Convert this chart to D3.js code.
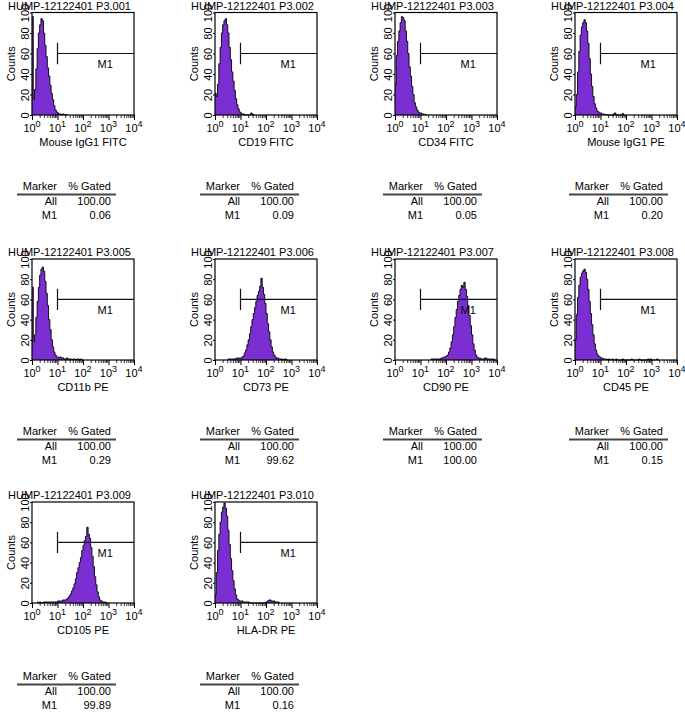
<!DOCTYPE html>
<html><head><meta charset="utf-8">
<script src="https://cdn.jsdelivr.net/npm/d3@7"></script>
<style>
html,body{margin:0;padding:0;background:#fff;}
svg{display:block;font-family:"Liberation Sans",Arial,Helvetica,sans-serif;}
</style></head>
<body>
<svg id="chart" width="685" height="712"></svg>
<script>
// ---------- data ----------
const titles = ["HUMP-12122401 P3.001","HUMP-12122401 P3.002","HUMP-12122401 P3.003","HUMP-12122401 P3.004",
  "HUMP-12122401 P3.005","HUMP-12122401 P3.006","HUMP-12122401 P3.007","HUMP-12122401 P3.008",
  "HUMP-12122401 P3.009","HUMP-12122401 P3.010"];
const xLabels = ["Mouse IgG1 FITC","CD19 FITC","CD34 FITC","Mouse IgG1 PE","CD11b PE","CD73 PE","CD90 PE","CD45 PE","CD105 PE","HLA-DR PE"];
const gatedAll = ["100.00","100.00","100.00","100.00","100.00","100.00","100.00","100.00","100.00","100.00"];
const gatedM1 = ["0.06","0.09","0.05","0.20","0.29","99.62","100.00","0.15","99.89","0.16"];
const yTicks = [0,20,40,60,80,100];
const xTickExponents = [0,1,2,3,4];
const markerName = "M1";
const markerRange = [10,10000];
const markerLevel = 60;
const tableHeader = ["Marker","% Gated"];
const rowNames = ["All","M1"];
// histograms: counts per channel, 20 channels per decade, starting at channel histStart[i]
const binsPerDecade = 20;
const histStart = [0,0,0,0,0,10,28,0,4,0];
const hist1 = [96,15,25,45,65,80,88,94,92,80,68,57,46,38,29,21,15,9,5,3,2,1,1,0,1,0.5,0.5,0];
const hist2 = [21,18,30,50,66,80,88,92,94,88,80,66,54,42,33,24,16,10,6,3,2,1,1,0,0,0,0,0,2,1,0];
const hist3 = [30,58,72,82,90,96,95,92,82,72,60,47,38,28,20,12,8,5,3,2,2,1,1,0.5,0];
const hist4 = [8,20,42,62,78,86,90,93,90,82,70,55,40,28,18,11,7,4,3,2,2,1,1,0.5,0.5,0,0,0,0,0,1,2,0,0,0,0,0,1.5,0];
const hist5 = [72,18,25,42,58,72,84,90,92,88,78,66,54,40,30,20,13,8,5,3,3,2,3,2,2,1,1,2,1,1,1,0.5,1,1,0.5,1,1,0.5,1,0];
const hist6 = [1,1,1,1,1,1,1.5,2,2,2,2,3,4,7,10,15,20,26,33,40,46,52,58,64,68,73,81,72,65,56,46,36,28,20,13,8,5,3,2,2,1,1,1,0,1,1,0];
const hist7 = [1,1,1,1,1,1,1,1,2,2,3,3,4,5,8,12,18,25,33,42,50,58,64,70,74,72,77,70,63,54,44,34,25,16,10,5,3,2,2,1,1,1,2,2,1,1,1,1,1,1,0];
const hist8 = [20,45,62,74,82,86,88,90,87,80,70,58,46,35,25,16,10,6,4,3,2,2,1,1,1,0.5,1,0,0.5,1,0,0,1,0,0,0,0,1,0,0,0,0,0,0,1,0,0,0,0,0,1,0,0,0,0,0,0,1,0,1,0,0,0,0,1,0];
const hist9 = [1,0,1,0,0,1,1,1,1,1,1,1,1,1,1,1,2,2,2,2,3,3,3,4,5,7,9,12,15,19,24,30,35,40,45,52,57,62,66,75,68,64,55,46,36,26,18,11,6,3,2,1,1,1,0];
const hist10 = [8,30,52,68,80,90,95,99,94,86,72,58,44,32,22,14,8,4,3,2,2,2,1,1,1,1,1,0,0,0,0,0,0,0,0,0,0,0,0,0,1,2,3,3,2,2,2,1,1,1,0];
const hists = [hist1,hist2,hist3,hist4,hist5,hist6,hist7,hist8,hist9,hist10];

// ---------- layout ----------
const colLeft = [32, 215, 395, 575];
const rowTop = [12.5, 259, 502];
const rowBottom = [115, 360, 603];
const frameW = 102;
const tableLeft = [17, 200, 383, 569];
const tableBase = [189.5, 434.5, 679.5];
const fillColor = "#7b2fd3";
const font = 11;

const svg = d3.select("#chart");

hists.forEach((h, i) => {
  const col = i % 4, row = Math.floor(i / 4);
  const left = colLeft[col], top = rowTop[row], bottom = rowBottom[row];
  const H = bottom - top;
  const x = d3.scaleLog().domain([1, 10000]).range([0, frameW]);
  const y = d3.scaleLinear().domain([0, 100]).range([H, 0]);
  const g = svg.append("g").attr("transform", `translate(${left},${top})`);

  // histogram
  const pts = h.map((v, k) => ({e: Math.pow(10, (histStart[i] + k) / binsPerDecade), v}));
  pts.push({e: Math.pow(10, (histStart[i] + h.length) / binsPerDecade), v: h[h.length - 1]});
  const area = d3.area().curve(d3.curveStepAfter)
    .x(d => x(d.e)).y0(y(0)).y1(d => y(Math.min(d.v, 100)));
  const line = d3.line().curve(d3.curveStepAfter)
    .x(d => x(d.e)).y(d => y(Math.min(d.v, 100)));
  g.append("path").datum(pts).attr("d", area).attr("fill", fillColor);
  g.append("path").datum(pts).attr("d", line).attr("fill", "none")
    .attr("stroke", "#000").attr("stroke-width", 0.9);

  // frame
  g.append("rect").attr("x", 0).attr("y", 0).attr("width", frameW).attr("height", H)
    .attr("fill", "none").attr("stroke", "#000").attr("stroke-width", 1.2);

  // y axis
  const ya = g.append("g").call(d3.axisLeft(y).tickValues(yTicks).tickSize(2).tickFormat(d3.format("d")));
  ya.select(".domain").remove();
  ya.selectAll("line").attr("stroke", "#000");
  ya.selectAll("text").attr("font-size", font).attr("fill", "#000")
    .attr("x", null).attr("dy", null)
    .attr("text-anchor", "middle")
    .attr("transform", "translate(-3,0) rotate(-90)");

  // x axis major + minor ticks
  const minor = [];
  for (let k = 0; k < 4; k++) for (let m = 2; m <= 9; m++) minor.push(m * Math.pow(10, k));
  const xm = g.append("g").attr("transform", `translate(0,${H})`)
    .call(d3.axisBottom(x).tickValues(minor).tickSize(3).tickFormat(""));
  xm.select(".domain").remove();
  xm.selectAll("line").attr("stroke", "#000").attr("stroke-width", 0.8);
  const xa = g.append("g").attr("transform", `translate(0,${H})`)
    .call(d3.axisBottom(x).tickValues(xTickExponents.map(e => Math.pow(10, e))).tickSize(5).tickFormat(""));
  xa.select(".domain").remove();
  xa.selectAll("line").attr("stroke", "#000");
  g.selectAll("text.xt").data(xTickExponents).join("text").attr("class", "xt")
    .attr("x", d => x(Math.pow(10, d))).attr("y", H + 17)
    .attr("text-anchor", "middle").attr("font-size", font)
    .each(function (d) {
      const t = d3.select(this);
      t.append("tspan").text("10");
      t.append("tspan").attr("dy", -5).attr("font-size", 9).text(d);
    });

  // axis titles
  g.append("text").attr("x", frameW / 2).attr("y", H + 31).attr("text-anchor", "middle")
    .attr("font-size", font).text(xLabels[i]);
  g.append("text").attr("transform", `translate(-17,${H / 2}) rotate(-90)`)
    .attr("text-anchor", "middle").attr("font-size", font).text("Counts");
  g.append("text").attr("x", -24).attr("y", -3).attr("font-size", font).text(titles[i]);

  // marker
  const mx0 = x(markerRange[0]), mx1 = x(markerRange[1]), my = y(markerLevel);
  g.append("line").attr("x1", mx0).attr("x2", mx1).attr("y1", my).attr("y2", my)
    .attr("stroke", "#111").attr("stroke-width", 1.2);
  g.append("line").attr("x1", mx0).attr("x2", mx0).attr("y1", y(49.5)).attr("y2", y(70.5))
    .attr("stroke", "#111").attr("stroke-width", 1.2);
  g.append("text").attr("x", x(Math.pow(10, 2.87))).attr("y", y(46)).attr("text-anchor", "middle")
    .attr("font-size", font).text(markerName);

  // table
  const tl = tableLeft[col], tb = tableBase[row];
  const t = svg.append("g").attr("font-size", font).attr("text-anchor", "end");
  t.append("text").attr("x", tl + 40).attr("y", tb).text(tableHeader[0]);
  t.append("text").attr("x", tl + 94).attr("y", tb).text(tableHeader[1]);
  t.append("line").attr("x1", tl).attr("x2", tl + 99).attr("y1", tb + 5).attr("y2", tb + 5)
    .attr("stroke", "#444").attr("stroke-width", 1.8);
  t.append("text").attr("x", tl + 40).attr("y", tb + 15.5).text(rowNames[0]);
  t.append("text").attr("x", tl + 94).attr("y", tb + 15.5).text(gatedAll[i]);
  t.append("text").attr("x", tl + 40).attr("y", tb + 29).text(rowNames[1]);
  t.append("text").attr("x", tl + 94).attr("y", tb + 29).text(gatedM1[i]);
});
</script>
</body></html>
